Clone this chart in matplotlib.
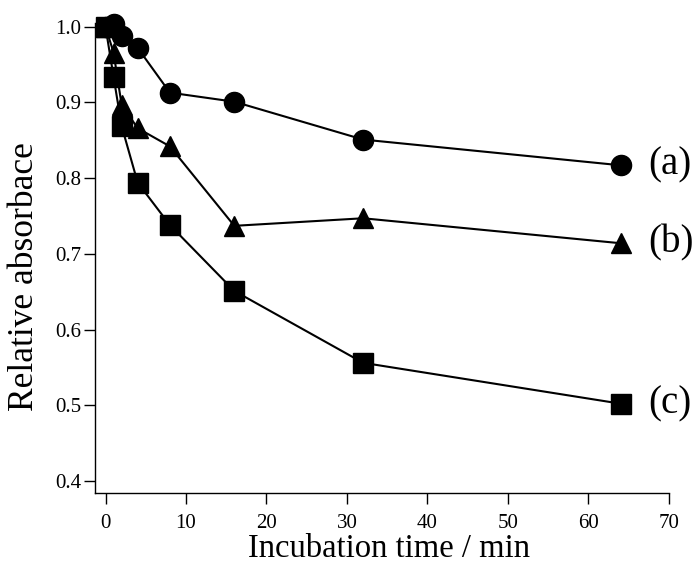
import matplotlib
matplotlib.use("Agg")
import matplotlib.pyplot as plt

time_min = [0, 1, 2, 4, 8, 16, 32, 64]
series_a = [1.000, 1.004, 0.988, 0.972, 0.913, 0.901, 0.851, 0.817]
series_b = [1.000, 0.966, 0.897, 0.866, 0.842, 0.737, 0.747, 0.714]
series_c = [1.000, 0.934, 0.869, 0.794, 0.738, 0.651, 0.556, 0.502]
series_labels = ["(a)", "(b)", "(c)"]
markers = ["o", "^", "s"]
x_ticks = [0, 10, 20, 30, 40, 50, 60, 70]
y_ticks = [0.4, 0.5, 0.6, 0.7, 0.8, 0.9, 1.0]

plt.rcParams['font.family'] = ['Liberation Serif', 'DejaVu Serif']

fig = plt.figure(figsize=(6.96, 5.64), dpi=100)
ax = fig.add_axes([0.1362, 0.1259, 0.8250, 0.8333])

for ys, m, lab in zip([series_a, series_b, series_c], markers, series_labels):
    ax.plot(time_min, ys, color='black', lw=1.5, marker=m, ms=14.5,
            mfc='black', mec='black', clip_on=False)
    ax.annotate(lab, xy=(time_min[-1], ys[-1]), xytext=(19.5, 0),
                textcoords='offset points', va='center', ha='left',
                fontsize=28, annotation_clip=False)

ax.set_xlim(-1.33, 70)
ax.set_ylim(0.384, 1.005)
ax.set_xticks(x_ticks)
ax.set_yticks(y_ticks)
ax.set_xticklabels([str(v) for v in x_ticks])
ax.set_yticklabels([f"{v:.1f}" for v in y_ticks])
for s in ['top', 'right']:
    ax.spines[s].set_visible(False)
for s in ['left', 'bottom']:
    ax.spines[s].set_linewidth(1.0)
ax.tick_params(direction='out', length=8, width=1.0, labelsize=15)
ax.tick_params(axis='y', pad=2)
ax.tick_params(axis='x', pad=7)
ax.set_xlabel("Incubation time / min", fontsize=23.5)
ax.set_ylabel("Relative absorbace", fontsize=25.5)
ax.yaxis.set_label_coords(-0.094, 0.46)
ax.xaxis.set_label_coords(0.513, -0.086)

fig.savefig("out.png", dpi=100)
